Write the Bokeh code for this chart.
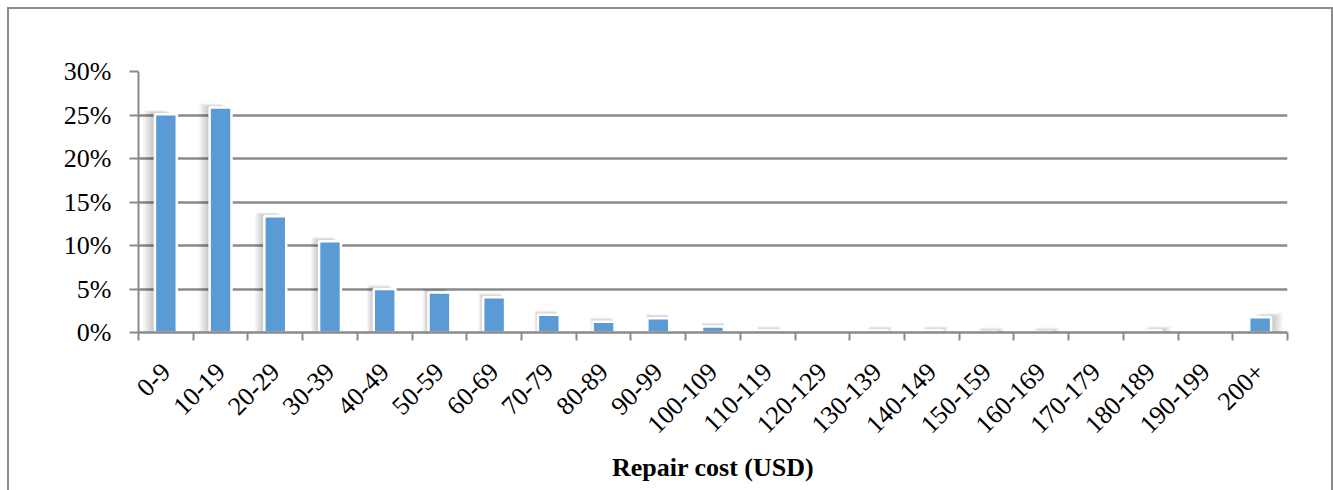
import math
from bokeh.plotting import figure
from bokeh.models import FixedTicker, Range1d, ColumnDataSource
from bokeh.layouts import column
from bokeh.embed import file_html
from bokeh.resources import INLINE

categories = ["0-9", "10-19", "20-29", "30-39", "40-49", "50-59", "60-69",
              "70-79", "80-89", "90-99", "100-109", "110-119", "120-129",
              "130-139", "140-149", "150-159", "160-169", "170-179",
              "180-189", "190-199", "200+"]
shares = [25.1, 25.85, 13.35, 10.5, 5.0, 4.6, 4.05, 2.05, 1.25, 1.65, 0.7,
          0.25, 0.0, 0.25, 0.25, 0.1, 0.1, 0.0, 0.25, 0.0, 1.75]
y_ticks = [0, 5, 10, 15, 20, 25, 30]

FONT = "Liberation Serif"
GRAY = "#8a8a8a"
BLUE = "#5b9bd5"

n = len(categories)
xs = list(range(n))
src = ColumnDataSource(dict(x=xs, top=shares, cat=categories))

p = figure(width=1322, height=490, output_backend="svg", toolbar_location=None,
           x_range=Range1d(-0.5, n - 0.5), y_range=Range1d(0, 30),
           min_border_left=129, min_border_top=62, min_border_right=44,
           min_border_bottom=167)
p.outline_line_color = None
p.background_fill_color = "white"
p.border_fill_color = "white"

# soft shadow layers (perspective-like: leftward on left bars, rightward on right)
half = (n - 1) / 2
for k in range(1, 7):
    sx = [i + (i - half) / half * 0.035 * k for i in xs]
    stop = [s + 0.08 * k if s > 0 else 0 for s in shares]
    p.vbar(x=sx, top=stop, bottom=0, width=0.40,
           fill_color="black", fill_alpha=0.04, line_color=None)

p.vbar(x="x", top="top", bottom=0, width=0.40, source=src,
       fill_color=BLUE, line_color="white", line_width=2.5)

# x axis
xa = p.xaxis[0]
xa.ticker = FixedTicker(ticks=xs, minor_ticks=[i - 0.5 for i in range(n + 1)])
xa.major_label_overrides = {i: c for i, c in zip(xs, categories)}
xa.major_label_orientation = math.pi / 4
xa.major_tick_out = 0
xa.major_tick_in = 0
xa.minor_tick_out = 8
xa.minor_tick_in = 0
xa.minor_tick_line_color = GRAY
xa.minor_tick_line_width = 2
xa.axis_line_color = GRAY
xa.axis_line_width = 2.5
xa.major_label_text_font = FONT
xa.major_label_text_font_size = "26px"
xa.major_label_text_color = "black"
xa.major_label_standoff = 27
xa.axis_label = "Repair cost (USD)"
xa.axis_label_text_font = FONT
xa.axis_label_text_font_size = "26px"
xa.axis_label_text_font_style = "bold"
xa.axis_label_text_color = "black"
xa.axis_label_standoff = 9

# y axis
ya = p.yaxis[0]
ya.ticker = FixedTicker(ticks=y_ticks, minor_ticks=[])
ya.major_label_overrides = {t: f"{t}%" for t in y_ticks}
ya.major_tick_out = 9
ya.major_tick_in = 0
ya.major_tick_line_color = GRAY
ya.major_tick_line_width = 2
ya.minor_tick_out = 0
ya.axis_line_color = GRAY
ya.axis_line_width = 2
ya.major_label_text_font = FONT
ya.major_label_text_font_size = "26px"
ya.major_label_text_color = "black"
ya.major_label_standoff = 18

p.xgrid.grid_line_color = None
p.ygrid.grid_line_color = GRAY
p.ygrid.grid_line_width = 2.5

layout = column(p, styles={"border-left": "2px solid #8c8c8c",
                           "border-top": "2px solid #8c8c8c",
                           "border-right": "2px solid #8c8c8c",
                           "margin-left": "7px", "margin-top": "7px"})

open("out.html", "w").write(file_html(layout, INLINE))
